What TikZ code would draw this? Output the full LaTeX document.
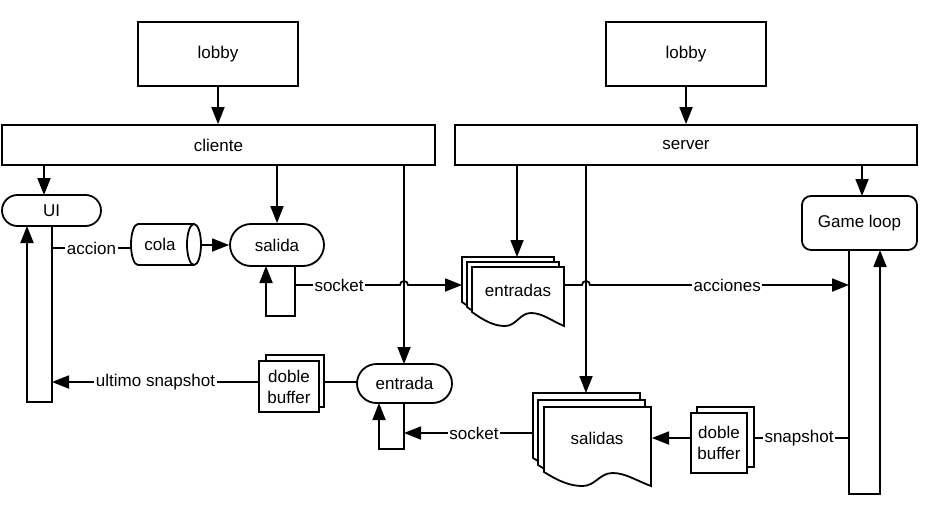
\documentclass[tikz,border=0pt]{standalone}
\usepackage{fontspec}
\setmainfont{Liberation Sans}
\usetikzlibrary{arrows.meta}
\newcommand\docpg[4]{%
  \draw[fill=white] (#1,#2) -- ({#1+#3},#2) -- ({#1+#3},{#2+#4})
    .. controls ({#1+0.85*#3},{#2+#4-6}) and ({#1+0.76*#3},{#2+#4-13}) .. ({#1+0.64*#3},{#2+#4-13})
    .. controls ({#1+0.52*#3},{#2+#4-13}) and ({#1+0.48*#3},{#2+#4}) .. ({#1+0.36*#3},{#2+#4})
    .. controls ({#1+0.25*#3},{#2+#4}) and ({#1+0.15*#3},{#2+#4-4}) .. (#1,{#2+#4-14}) -- cycle;}
\begin{document}
\begin{tikzpicture}[x=1pt,y=-1pt,line width=1.8pt,line join=miter,
  >={Triangle[length=17pt,width=13pt]},
  font=\fontsize{17}{21}\selectfont,
  box/.style={draw,fill=white,inner sep=0pt,align=center},
  pill/.style={box,rounded corners=#1},
  lbl/.style={fill=white,inner sep=1.5pt},
  plain/.style={inner sep=0pt,align=center}]
\fill[white] (0,0) rectangle (928,508);
\useasboundingbox (0,0) rectangle (928,508);

% top boxes
\node[box,minimum width=160,minimum height=64] (lobbyA) at (218,54) {lobby};
\node[box,minimum width=433,minimum height=40] (cliente) at (218.5,145) {cliente};
\node[box,minimum width=160,minimum height=64] (lobbyB) at (686,54) {lobby};
\node[box,minimum width=462,minimum height=40] (server) at (686,145) {server};

% client side
\node[pill=15.5pt,minimum width=99,minimum height=31] (UI) at (51.5,210.5) {UI};
\node[pill=21pt,minimum width=94,minimum height=42] (salida) at (277,245) {salida};
\node[pill=19.5pt,minimum width=95,minimum height=39] (entrada) at (404.5,383.5) {entrada};

% cola cylinder
\draw[fill=white] (194,224) -- (138,224) arc[start angle=270,end angle=90,x radius=7,y radius=20.5] -- (194,265);
\draw[fill=white] (194,244.5) ellipse[x radius=7,y radius=20.5];
\node[plain] (cola) at (160,244) {cola};

% doble buffer left
\draw[fill=white] (266,355) rectangle (324,407);
\node[box,minimum width=60,minimum height=51] (dbL) at (289,386.5) {doble\\buffer};

% server side
\node[pill=9pt,minimum width=115,minimum height=54] (game) at (859.5,223) {Game loop};
\docpg{462}{257}{92}{59}
\docpg{467}{262}{92}{59}
\docpg{472}{267}{92}{59}
\node[plain] (entradas) at (518,290) {entradas};
\docpg{533}{393}{107}{79}
\docpg{538}{400}{107}{79}
\docpg{544}{407}{107}{79}
\node[plain] (salidas) at (597,438) {salidas};
\draw[fill=white] (697,407) rectangle (754,467);
\node[box,minimum width=56,minimum height=60] (dbR) at (719,443) {doble\\buffer};

% connectors from lobbies
\draw[->] (lobbyA.south) -- (lobbyA.south |- cliente.north);
\draw[->] (lobbyB.south) -- (lobbyB.south |- server.north);

% connectors from cliente
\draw[->] (44,165) -- (44,195);
\draw[->] (277,165) -- (salida.north);
\draw[->] (404,165) -- (404,364);

% connectors from server
\draw[->] (517,165) -- (517,257);
\draw[->] (586,165) -- (586,393);
\draw[->] (862,165) -- (862,196);

% UI bar
\draw[->] (52,226) -- (52,402) -- (27,402) -- (27,226);
\draw (52,248) -- node[lbl]{accion} (131,248);
\draw[->] (201,245) -- (salida.west);

% salida loop and socket
\draw[->] (295,266) -- (295,316) -- (266,316) -- (266,266);
\draw[->] (295,285) -- node[lbl,pos=0.42]{socket} (400,285)
  arc[start angle=180,end angle=360,radius=4] -- (462,285);

% acciones
\draw[->] (564,285) -- (582,285) arc[start angle=180,end angle=360,radius=4]
  -- node[lbl,pos=0.53]{acciones} (849,285);

% game loop bar
\draw[->] (849,250) -- (849,494) -- (880,494) -- (880,250);
\draw (849,438) -- node[lbl,pos=0.526]{snapshot} (754,438);
\draw[->] (691,438) -- (652,438);

% lower socket and entrada loop
\draw[->] (404,403) -- (404,449) -- (379,449) -- (379,403);
\draw[->] (533,433) -- node[lbl,pos=0.457]{socket} (404,433);
\draw (357,382) -- (324,382);
\draw[->] (259,382) -- node[lbl]{ultimo snapshot} (52,382);
\end{tikzpicture}
\end{document}
